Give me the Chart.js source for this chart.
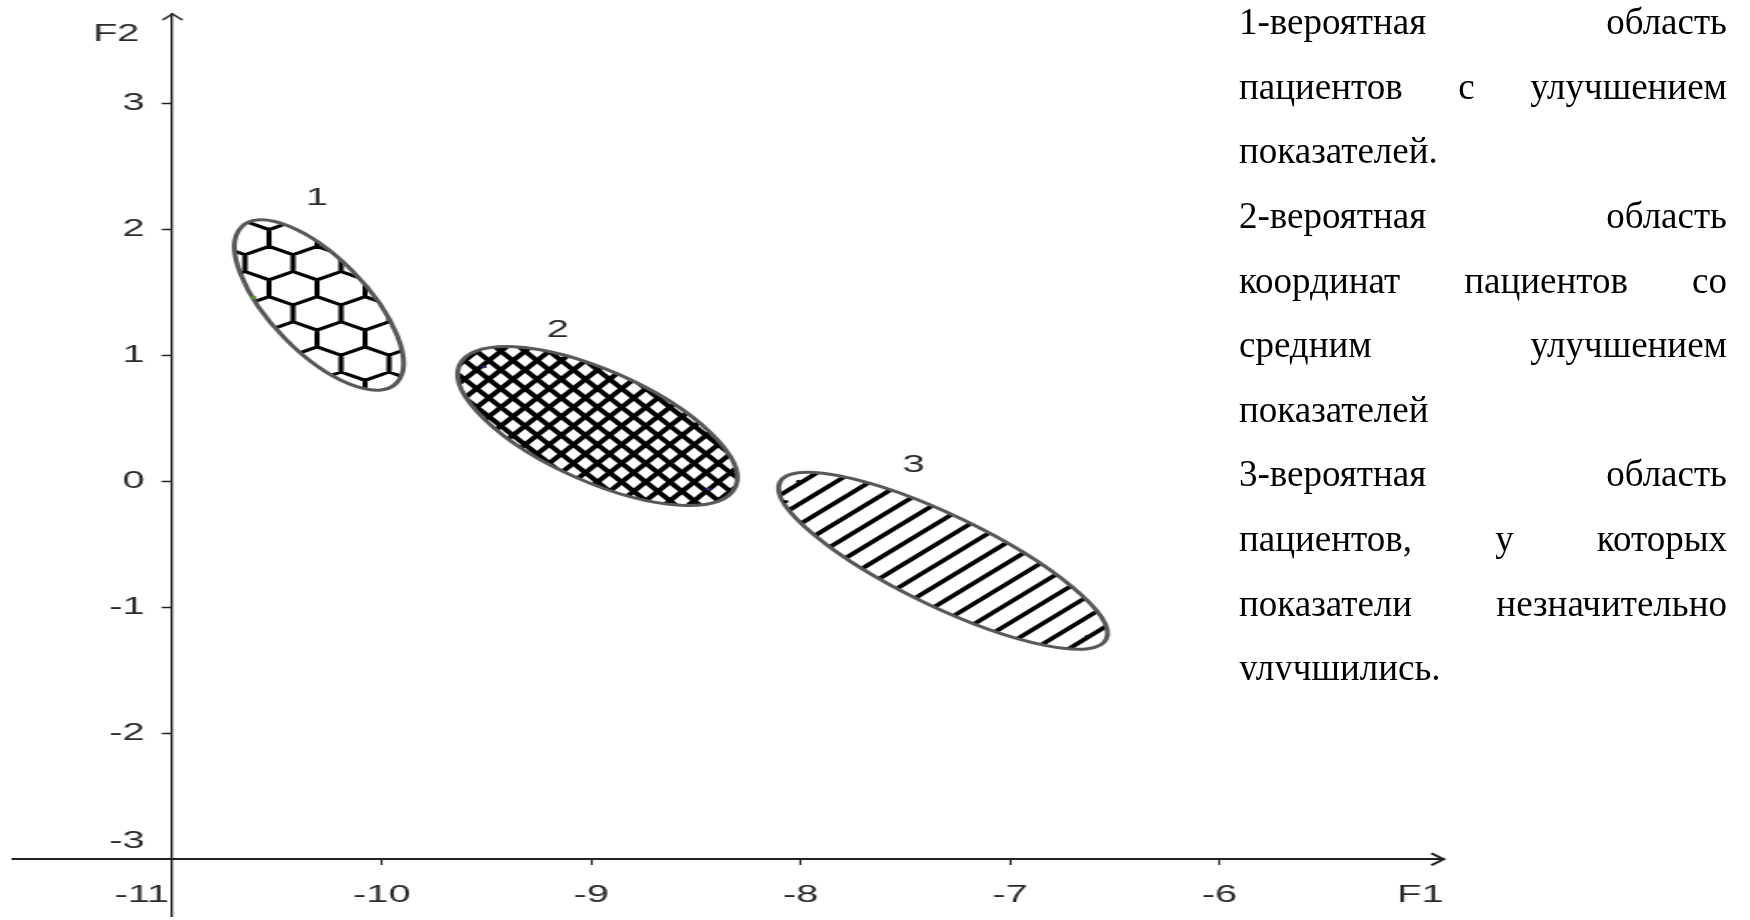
<!DOCTYPE html>
<html lang="ru">
<head>
<meta charset="utf-8">
<title>F1 / F2</title>
<script src="https://cdn.jsdelivr.net/npm/chart.js@4.4.1/dist/chart.umd.min.js"></script>
<style>
	html, body { margin: 0; padding: 0; background: #fff; }
	body { width: 1750px; height: 920px; position: relative; overflow: hidden; }
	#plot { position: absolute; left: 0; top: 0; }
	#legend {
		position: absolute; left: 1239px; top: -9.8px; width: 488px; height: 689.8px;
		overflow: hidden;
		font-family: "Liberation Serif", "Times New Roman", serif;
		font-size: 37px; line-height: 64.6px; color: #000;
	}
	#legend div { text-align: justify; text-align-last: justify; }
	#legend div.end { text-align-last: left; }
</style>
</head>
<body>
<!-- the plot is drawn narrow and stretched sideways, like the original picture -->
<canvas id="plot" width="882" height="920" style="width:1460px;height:920px"></canvas>
<div id="legend"></div>
<script>
// axes
const xTicks = [-10, -9, -8, -7, -6];
const yTicks = [-2, -1, 0, 1, 2, 3];
const xCross = -11; // F2 axis stands here
const yCross = -3;  // F1 axis lies here
const xMin = -11.76, xMax = -4.93;
const yMin = -3.45, yMax = 3.71;

// regions: centre, end of the long axis, end of the short axis
const regionLabels = ['1', '2', '3'];
const centerF1 = [-10.30, -8.97, -7.32];
const centerF2 = [1.40, 0.44, -0.63];
const vertexF1 = [-9.93, -8.31, -6.54];
const vertexF2 = [0.78, -0.04, -1.25];
const coVertexF1 = [-10.14, -8.87, -7.23];
const coVertexF2 = [1.67, 0.85, -0.30];
// where the region numbers sit
const labelF1 = [-10.31, -9.16, -7.46];
const labelF2 = [2.25, 1.20, 0.13];

// small points left inside the regions
const pointF1 = [-10.61, -9.51, -8.44, -8.01, -8.07, -6.63];
const pointF2 = [1.46, 0.91, -0.06, 0.00, -0.16, -1.23];
const pointColors = ['#5a9a1a', '#2a2a8a', '#2a2a8a', '#111', '#111', '#111'];

const legendLines = [
	['1-вероятная область', ''],
	['пациентов с улучшением', ''],
	['показателей.', 'end'],
	['2-вероятная область', ''],
	['координат пациентов со', ''],
	['средним улучшением', ''],
	['показателей', 'end'],
	['3-вероятная область', ''],
	['пациентов, у которых', ''],
	['показатели незначительно', ''],
	['улучшились.', 'end'],
];

const legend = document.getElementById('legend');
legendLines.forEach(([text, cls]) => {
	const d = document.createElement('div');
	d.textContent = text;
	if (cls) d.className = cls;
	legend.appendChild(d);
});

const labelFont = { family: '"Liberation Sans", Arial, sans-serif', size: 24 };
const inkColor = '#222';
const textColor = '#2a2a2a';
// centred y axes put their labels right on the line, so keep a gap after the text
const yLabel = (v) => `${v}\u2002\u2009`;

//Fill styles
function hatch(ctx, cx, cy, bx, by, angleDeg, gap, width) {
	const a = angleDeg * Math.PI / 180;
	const dx = Math.cos(a), dy = -Math.sin(a);
	const nx = -dy, ny = dx;
	const R = Math.hypot(bx, by) + gap;
	const n = Math.ceil(R / gap);
	ctx.lineWidth = width;
	ctx.beginPath();
	for (let k = -n; k <= n; k++) {
		const ox = cx + nx * k * gap, oy = cy + ny * k * gap;
		ctx.moveTo(ox - dx * R, oy - dy * R);
		ctx.lineTo(ox + dx * R, oy + dy * R);
	}
	ctx.stroke();
}

function honeycomb(ctx, cx, cy, bx, by, side, width, offX, offY) {
	const w = Math.sqrt(3) * side, h = 1.5 * side;
	const x0 = cx + offX, y0 = cy + offY;
	ctx.lineWidth = width;
	ctx.lineJoin = 'round';
	ctx.beginPath();
	const rMin = Math.floor((cy - by - y0) / h) - 1;
	const rMax = Math.ceil((cy + by - y0) / h) + 1;
	for (let r = rMin; r <= rMax; r++) {
		const yc = y0 + r * h;
		const shift = (((r % 2) + 2) % 2) * w / 2;
		const kMin = Math.floor((cx - bx - x0 - shift) / w) - 1;
		const kMax = Math.ceil((cx + bx - x0 - shift) / w) + 1;
		for (let k = kMin; k <= kMax; k++) {
			const xc = x0 + shift + k * w;
			for (let j = 0; j < 6; j++) {
				const t = (-90 + 60 * j) * Math.PI / 180;
				const X = xc + side * Math.cos(t), Y = yc + side * Math.sin(t);
				if (j) ctx.lineTo(X, Y); else ctx.moveTo(X, Y);
			}
			ctx.closePath();
		}
	}
	ctx.stroke();
}

const fills = [
	(ctx, cx, cy, bx, by) => honeycomb(ctx, cx, cy, bx, by, 16.75, 3.1, -44.7, -67),
	(ctx, cx, cy, bx, by) => {
		hatch(ctx, cx, cy, bx, by, 52, 11.5, 3.8);
		hatch(ctx, cx, cy, bx, by, 128, 11.5, 3.8);
	},
	(ctx, cx, cy, bx, by) => hatch(ctx, cx, cy, bx, by, 45, 14.5, 3.6),
];

// draws the three regions through the chart scales
const regionsPlugin = {
	id: 'regions',
	beforeDatasetsDraw(chart) {
		const { ctx, scales: { x, y } } = chart;
		regionLabels.forEach((lab, i) => {
			const px = x.getPixelForValue(centerF1[i]);
			const py = y.getPixelForValue(centerF2[i]);
			const ux = x.getPixelForValue(vertexF1[i]) - px;
			const uy = y.getPixelForValue(vertexF2[i]) - py;
			const vx = x.getPixelForValue(coVertexF1[i]) - px;
			const vy = y.getPixelForValue(coVertexF2[i]) - py;
			const trace = () => {
				ctx.save();
				ctx.transform(ux, uy, vx, vy, px, py);
				ctx.beginPath();
				ctx.arc(0, 0, 1, 0, Math.PI * 2);
				ctx.closePath();
				ctx.restore();
			};
			const bx = Math.abs(ux) + Math.abs(vx);
			const by = Math.abs(uy) + Math.abs(vy);

			ctx.save();
			trace();
			ctx.clip();
			ctx.strokeStyle = '#000';
			fills[i](ctx, px, py, bx, by);
			ctx.restore();

			ctx.save();
			trace();
			ctx.strokeStyle = '#585858';
			ctx.lineWidth = 3;
			ctx.stroke();
			ctx.restore();
		});
	},
};

// arrows, axis names and region numbers
const axisPlugin = {
	id: 'axisDecor',
	afterDraw(chart) {
		const { ctx, chartArea, scales: { x, y } } = chart;
		const ax = x.getPixelForValue(xCross);
		const ay = y.getPixelForValue(yCross);
		ctx.save();
		ctx.strokeStyle = inkColor;
		ctx.lineWidth = 1.5;
		ctx.beginPath();
		ctx.moveTo(ax - 6, chartArea.top + 6);
		ctx.lineTo(ax, chartArea.top);
		ctx.lineTo(ax + 6, chartArea.top + 6);
		ctx.stroke();
		ctx.lineWidth = 2;
		ctx.beginPath();
		ctx.moveTo(chartArea.right - 7.3, ay - 6);
		ctx.lineTo(chartArea.right, ay);
		ctx.lineTo(chartArea.right - 7.3, ay + 6);
		ctx.stroke();

		ctx.fillStyle = textColor;
		ctx.font = `${labelFont.size}px ${labelFont.family}`;
		ctx.textBaseline = 'middle';
		ctx.textAlign = 'center';
		ctx.fillText('F2', ax - 34, chartArea.top + 20);
		ctx.textAlign = 'right';
		ctx.fillText('F1', chartArea.right, ay + 36);
		ctx.textAlign = 'center';
		regionLabels.forEach((t, i) => {
			ctx.fillText(t, x.getPixelForValue(labelF1[i]), y.getPixelForValue(labelF2[i]));
		});
		ctx.restore();
	},
};

const noPadding = (s) => {
	s.paddingTop = 0;
	s.paddingBottom = 0;
	s.paddingLeft = 0;
	s.paddingRight = 0;
};

new Chart(document.getElementById('plot'), {
	type: 'scatter',
	data: {
		datasets: [{
			data: pointF1.map((v, i) => ({ x: v, y: pointF2[i] })),
			pointRadius: 1.6,
			pointBorderWidth: 0,
			pointBackgroundColor: pointColors,
		}],
	},
	options: {
		responsive: false,
		animation: false,
		devicePixelRatio: 1,
		layout: { padding: { left: 8, right: 10, top: 14, bottom: 0 } },
		plugins: { legend: { display: false }, tooltip: { enabled: false } },
		scales: {
			x: {
				type: 'linear', min: xMin, max: xMax,
				position: { y: yCross },
				afterBuildTicks: (s) => { s.ticks = xTicks.map((v) => ({ value: v })); },
				afterFit: noPadding,
				grid: { drawOnChartArea: false, tickLength: 5, tickWidth: 1.2, color: inkColor },
				border: { color: inkColor, width: 2 },
				ticks: { padding: 16.6, font: labelFont, color: textColor, autoSkip: false, maxRotation: 0 },
			},
			xOrigin: {
				type: 'linear', axis: 'x', min: xMin, max: xMax,
				position: { y: yCross },
				afterBuildTicks: (s) => { s.ticks = [{ value: xCross }]; },
				afterFit: noPadding,
				grid: { display: false, drawTicks: false },
				border: { display: false },
				ticks: { padding: 21.6, labelOffset: -18.5, font: labelFont, color: textColor, autoSkip: false, maxRotation: 0 },
			},
			y: {
				type: 'linear', min: yMin, max: yMax,
				position: { x: xCross },
				afterBuildTicks: (s) => { s.ticks = yTicks.map((v) => ({ value: v })); },
				afterFit: noPadding,
				grid: { drawOnChartArea: false, tickLength: 5.4, tickWidth: 1.5, color: inkColor },
				border: { color: inkColor, width: 1.4 },
				ticks: { font: labelFont, color: textColor, autoSkip: false, callback: yLabel },
			},
			yOrigin: {
				type: 'linear', axis: 'y', min: yMin, max: yMax,
				position: { x: xCross },
				afterBuildTicks: (s) => { s.ticks = [{ value: yCross }]; },
				afterFit: noPadding,
				grid: { display: false, drawTicks: false },
				border: { display: false },
				ticks: { labelOffset: -18, font: labelFont, color: textColor, autoSkip: false, callback: yLabel },
			},
		},
	},
	plugins: [regionsPlugin, axisPlugin],
});
</script>
</body>
</html>
